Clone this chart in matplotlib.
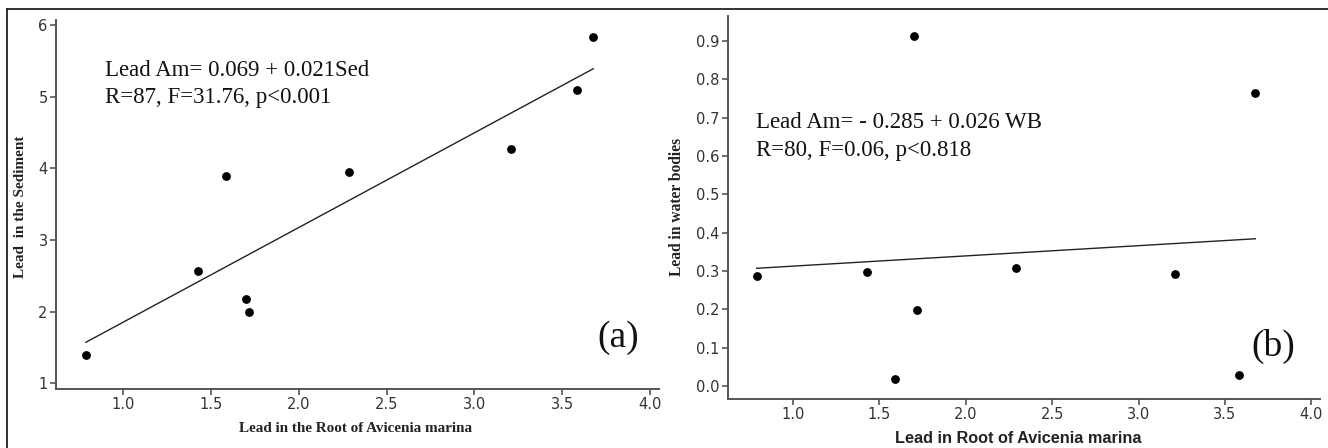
import numpy as np
import matplotlib
matplotlib.use("Agg")
import matplotlib.pyplot as plt
from matplotlib.lines import Line2D

# Data
root_pb = [0.79, 1.427, 1.588, 1.70, 1.717, 2.288, 3.209, 3.583, 3.676]
sediment_pb = [1.39, 2.57, 3.89, 2.17, 2.00, 3.95, 4.27, 5.10, 5.83]
water_pb = [0.288, 0.297, 0.017, 0.913, 0.199, 0.308, 0.291, 0.029, 0.764]

left_yticks = [1, 2, 3, 4, 5, 6]
right_yticks = [0.0, 0.1, 0.2, 0.3, 0.4, 0.5, 0.6, 0.7, 0.8, 0.9]
xticks = [1.0, 1.5, 2.0, 2.5, 3.0, 3.5, 4.0]

W, H = 1328, 448
fig = plt.figure(figsize=(W / 100, H / 100), dpi=100)
fig.patch.set_facecolor("white")

def fx(px):
    return px / W

def fy(py):
    return 1 - py / H

serif = "Liberation Serif"
tick_color = "#333333"
spine_color = "#555555"

axA = fig.add_axes([fx(56), fy(389), fx(659) - fx(56), fy(20) - fy(389)])
axB = fig.add_axes([fx(728), fy(399), fx(1320) - fx(728), fy(16) - fy(399)])

def style(ax):
    for s in ["top", "right"]:
        ax.spines[s].set_visible(False)
    for s in ["left", "bottom"]:
        ax.spines[s].set_color(spine_color)
        ax.spines[s].set_linewidth(1.4)
    ax.tick_params(direction="out", length=4, width=1.2, color=spine_color,
                   labelcolor=tick_color, labelsize=10.5, pad=2)
    for lab in ax.get_xticklabels() + ax.get_yticklabels():
        lab.set_family("DejaVu Sans")

def draw(ax, x, y):
    x = np.asarray(x)
    y = np.asarray(y)
    b, a = np.polyfit(x, y, 1)
    xs = np.array([x.min(), x.max()])
    ax.plot(xs, a + b * xs, color="#222222", lw=1.0)
    ax.scatter(x, y, s=40, color="black", zorder=3, linewidths=0)

draw(axA, root_pb, sediment_pb)
axA.set_xlim(0.62, 4.05)
axA.set_ylim(0.92, 6.07)
axA.set_xticks(xticks)
axA.set_yticks(left_yticks)
axA.set_xticklabels([f"{t:.1f}" for t in xticks])
axA.set_yticklabels([str(t) for t in left_yticks])
style(axA)
axA.text(0.081, 0.864, "Lead Am= 0.069 + 0.021Sed", transform=axA.transAxes,
         family=serif, fontsize=16.5, va="center", ha="left", color="#111111")
axA.text(0.081, 0.791, "R=87, F=31.76, p<0.001", transform=axA.transAxes,
         family=serif, fontsize=16.5, va="center", ha="left", color="#111111")
axA.text(0.932, 0.138, "(a)", transform=axA.transAxes, family=serif,
         fontsize=27, va="center", ha="center", color="#111111")

draw(axB, root_pb, water_pb)
axB.set_xlim(0.624, 4.05)
axB.set_ylim(-0.034, 0.965)
axB.set_xticks(xticks)
axB.set_yticks(right_yticks)
axB.set_xticklabels([f"{t:.1f}" for t in xticks])
axB.set_yticklabels([f"{t:.1f}" for t in right_yticks])
style(axB)
axB.text(0.047, 0.721, "Lead Am= - 0.285 + 0.026 WB", transform=axB.transAxes,
         family=serif, fontsize=16.5, va="center", ha="left", color="#111111")
axB.text(0.047, 0.650, "R=80, F=0.06, p<0.818", transform=axB.transAxes,
         family=serif, fontsize=16.5, va="center", ha="left", color="#111111")
axB.text(0.921, 0.136, "(b)", transform=axB.transAxes, family=serif,
         fontsize=27, va="center", ha="center", color="#111111")

# Axis labels
fig.text(fx(21), fy(207), "Lead  in the Sediment", rotation=90, family=serif,
         fontweight="bold", fontsize=11, ha="center", va="center", color="#222222")
fig.text(fx(356), fy(428), "Lead in the Root of Avicenia marina", family=serif,
         fontweight="bold", fontsize=10.9, ha="center", va="center", color="#222222")
fig.text(fx(677), fy(207), "Lead in water bodies", rotation=90, family=serif,
         fontweight="bold", fontsize=11.2, ha="center", va="center", color="#222222")
fig.text(fx(1018), fy(438), "Lead in Root of Avicenia marina", family="Liberation Sans",
         fontweight="bold", fontsize=11.7, ha="center", va="center", color="#222222")

# Outer frame lines (top and left)
fig.add_artist(Line2D([fx(7), 1.0], [fy(9), fy(9)], color="#222222", lw=1.3))
fig.add_artist(Line2D([fx(7), fx(7)], [fy(9), 0.0], color="#222222", lw=1.3))

fig.savefig("out.png", dpi=100, facecolor="white")
